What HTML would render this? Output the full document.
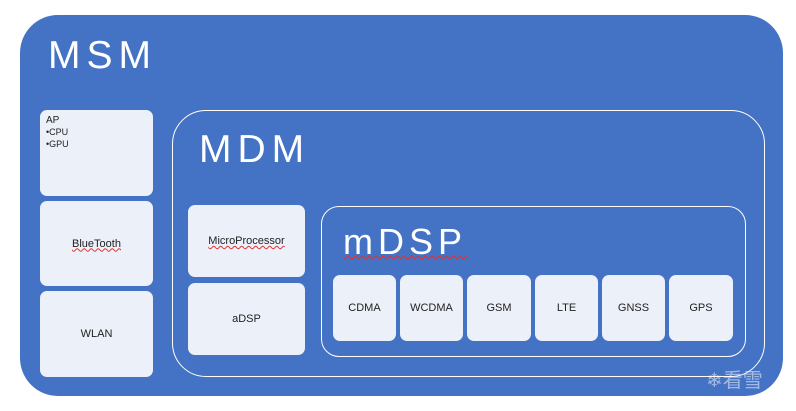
<!DOCTYPE html>
<html><head><style>
body{margin:0;width:796px;height:411px;background:#fff;position:relative;overflow:hidden;font-family:"Liberation Sans",sans-serif}
div{position:absolute;box-sizing:border-box}
.msm{left:20px;top:15px;width:763px;height:381px;background:#4472C4;border-radius:38px}
.b{background:#ECF0F9;border-radius:7px;color:#222;font-size:11px;display:flex;align-items:center;justify-content:center}
.o{border:1.5px solid #fff;}
.t{color:#fff;font-size:39px;line-height:1;letter-spacing:6px}
</style></head><body>
<div class="msm"></div>
<div class="t" style="left:48px;top:36px">MSM</div>
<div class="b" style="left:40px;top:110px;width:113px;height:86px;display:block;padding:5px 6px;font-size:10px;line-height:12px">AP<br><span style="font-size:9px;line-height:11px">•CPU<br>•GPU</span></div>
<div class="b" style="left:40px;top:201px;width:113px;height:85px"><span style="text-decoration:underline wavy #d33;text-decoration-thickness:1px">BlueTooth</span></div>
<div class="b" style="left:40px;top:291px;width:113px;height:86px">WLAN</div>
<div class="o" style="left:172px;top:110px;width:593px;height:267px;border-radius:34px"></div>
<div class="t" style="left:199px;top:130px">MDM</div>
<div class="b" style="left:188px;top:205px;width:117px;height:72px"><span style="text-decoration:underline wavy #d33;text-decoration-thickness:1px">MicroProcessor</span></div>
<div class="b" style="left:188px;top:283px;width:117px;height:72px">aDSP</div>
<div class="o" style="left:321px;top:206px;width:425px;height:151px;border-radius:18px"></div>
<div class="t" style="left:343px;top:224px;font-size:36px;letter-spacing:5px"><span style="text-decoration:underline wavy #d33;text-decoration-thickness:1px">mDSP</span></div>
<div class="b" style="left:333px;top:275px;width:63px;height:66px">CDMA</div>
<div class="b" style="left:400px;top:275px;width:63px;height:66px">WCDMA</div>
<div class="b" style="left:467px;top:275px;width:64px;height:66px">GSM</div>
<div class="b" style="left:535px;top:275px;width:63px;height:66px">LTE</div>
<div class="b" style="left:602px;top:275px;width:63px;height:66px">GNSS</div>
<div class="b" style="left:669px;top:275px;width:64px;height:66px">GPS</div>
<div style="left:706px;top:364px;color:rgba(255,255,255,0.5);font-size:20px;font-family:'Noto Sans CJK SC',sans-serif">❄看雪</div>
</body></html>
